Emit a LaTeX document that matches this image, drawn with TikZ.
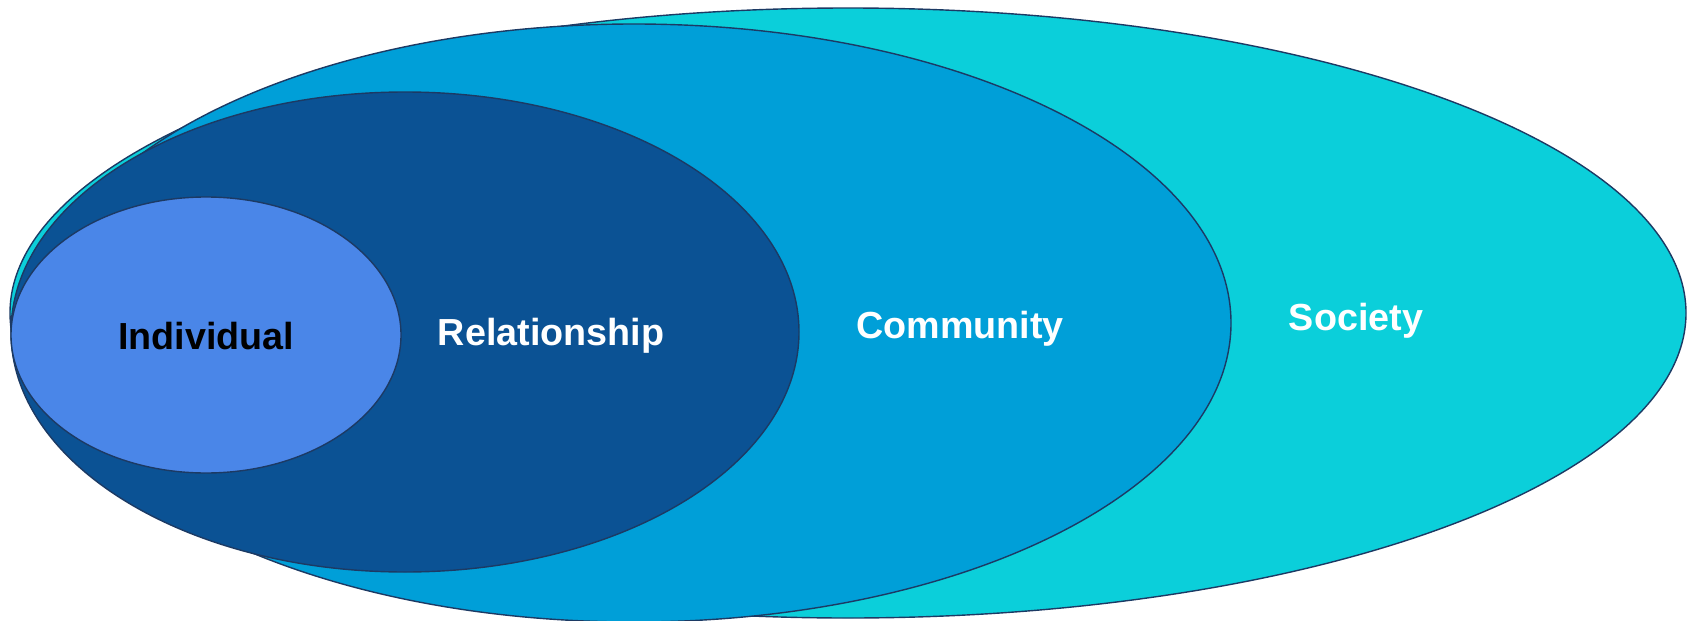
\documentclass[tikz,border=0pt]{standalone}
\usepackage{fontspec}
\setmainfont{Liberation Sans}
\usetikzlibrary{shapes.geometric}
\definecolor{socfill}{RGB}{11,207,218}
\definecolor{comfill}{RGB}{0,159,216}
\definecolor{relfill}{RGB}{11,82,148}
\definecolor{indfill}{RGB}{74,134,232}
\definecolor{edgecol}{RGB}{28,58,100}
\begin{document}
\begin{tikzpicture}[x=0.5pt,y=-0.5pt,
  ring/.style={ellipse, draw=edgecol, line width=0.7pt, inner sep=0pt, outer sep=0pt},
  lab/.style={font=\fontsize{18.85}{22}\selectfont\bfseries, text=white, inner sep=0pt, anchor=base}]
\useasboundingbox (0,0) rectangle (1687,621);
\node[ring, fill=socfill, minimum width=838pt, minimum height=305pt] (society) at (848,313) {};
\node[ring, fill=comfill, minimum width=597pt, minimum height=299pt] (community) at (634,323) {};
\node[ring, fill=relfill, minimum width=394pt, minimum height=240pt] (relationship) at (405,332) {};
\node[ring, fill=indfill, minimum width=195pt, minimum height=138pt] (individual) at (206,335) {};
\node[lab, text=black] (lind) at (206,349) {Individual};
\node[lab] (lrel) at (551,345) {Relationship};
\node[lab] (lcom) at (960,338) {Community};
\node[lab] (lsoc) at (1356,330) {Society};
\end{tikzpicture}
\end{document}
